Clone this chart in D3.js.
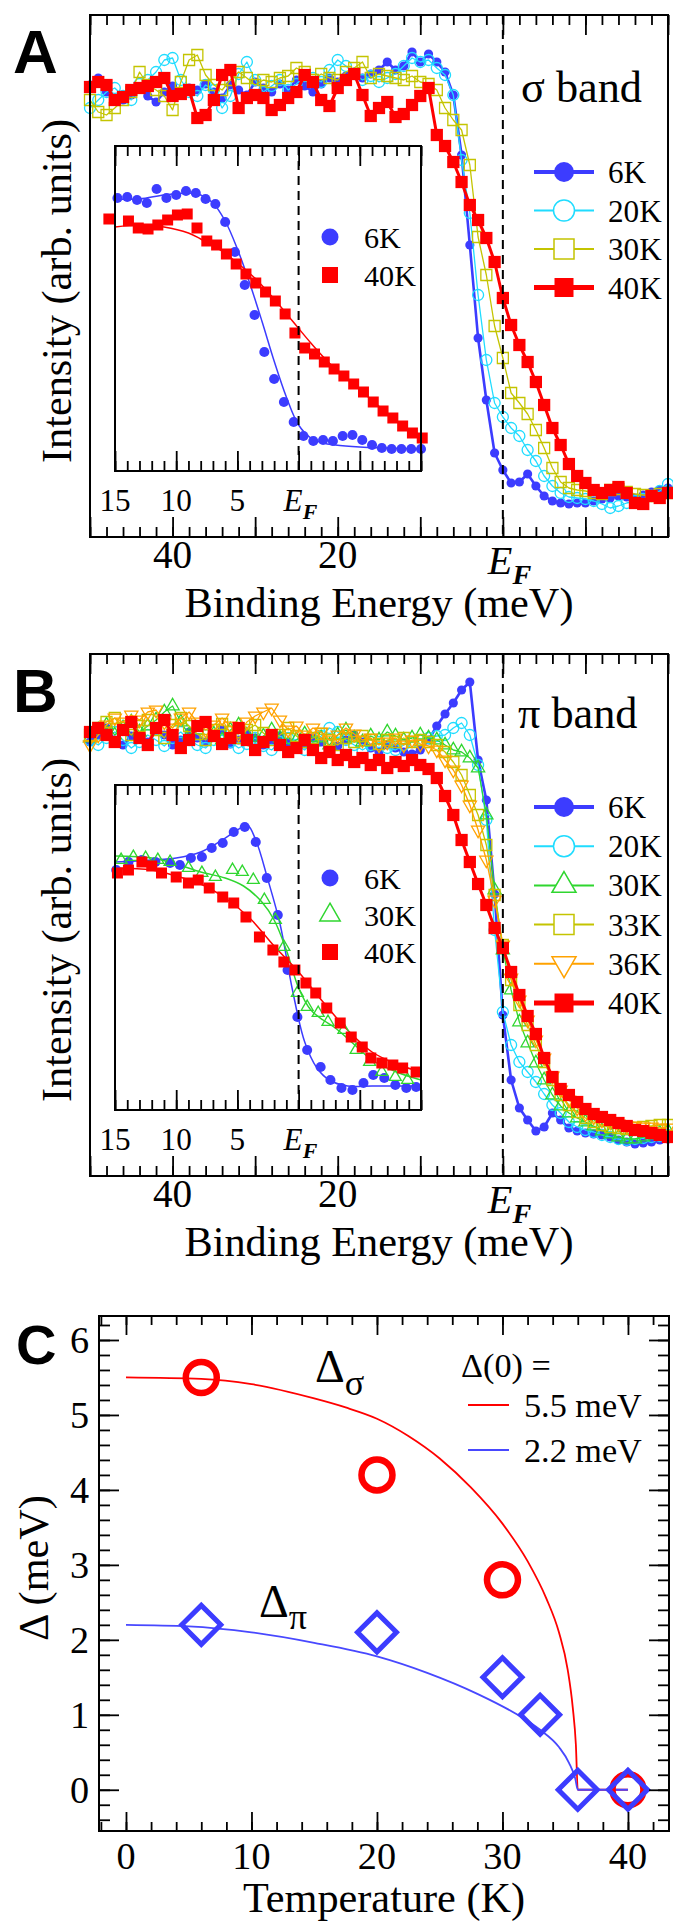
<!DOCTYPE html>
<html><head><meta charset="utf-8">
<script src="https://cdn.jsdelivr.net/npm/d3@7"></script>
<style>
body{margin:0;background:#fff}
svg{display:block}
</style>
</head><body>
<svg id="fig" width="673" height="1923"></svg>
<script>
// ---------------- DATA ----------------
const energies = [50,49,48,47,46,45,44,43,42,41,40,39,38,37,36,35,34,33,32,31,30,29,28,27,26,25,24,23,22,21,20,19,18,17,16,15,14,13,12,11,10,9,8,7,6,5,4,3,2,1,0,-1,-2,-3,-4,-5,-6,-7,-8,-9,-10,-11,-12,-13,-14,-15,-16,-17,-18,-19,-20];

// Panel A: sigma band (arb. units)
const sigma6K  = [452,459,445,439,437,442,449,441,435,445, 451,442,449,447,453,445,439,452,447,442, 455,449,445,453,447,457,451,445,453,459, 455,461,465,459,463,467,475,467,471,485, 475,483,475,465,442,382,292,199,137,84, 67, 54,55,63,51,41,36,34,33,34,34, 36,38,39,41,40,39,42,45,47,49];
const sigma20K = [429,437,445,449,441,437,453,457,465,477, 479,457,445,441,452,447,429,441,463,475, 457,445,451,457,447,453,461,459,455,467, 477,471,463,457,461,455,459,463,471,479, 475,477,469,462,442,377,324,242,177,134, 120, 109,101,87,76,61,51,44,40,39,38, 36,33,29,31,34,36,38,41,46,53];
const sigma30K = [437,425,422,429,437,445,465,452,447,441, 427,455,477,482,462,452,447,457,465,459, 452,457,455,459,461,469,465,457,463,459, 457,465,469,475,459,463,461,459,457,461, 455,453,447,429,417,407,372,300,262,211, 179, 144,134,123,107,89,69,55,49,47,46, 44,43,47,48,45,43,42,41,43,44];
const sigma40K = [450,455,452,437,440,447,449,451,455,459, 441,443,447,419,422,437,462,467,429,439, 442,439,427,432,439,445,462,455,437,431, 449,457,463,442,421,429,435,420,423,432, 441,449,402,391,375,355,332,317,299,275, 239, 212,192,175,155,132,109,92,73,61,54, 47,44,47,50,44,34,33,41,39,44];

// Panel B: pi band (arb. units)
const pi6K  = [434,441,448,436,431,440,438,434,446,441, 431,436,444,438,434,440,446,432,436,442, 438,431,436,440,434,428,432,438,434,426, 430,436,441,434,428,424,431,428,424,422, 426,436,450,462,473,486,494,416,376,282, 161, 96,68,56,45,49,63,56,48,45,43, 42,41,39,36,34,32,33,34,36,37];
const pi20K = [436,431,438,444,436,428,434,441,436,430, 438,444,436,431,428,436,441,434,428,432, 438,430,426,434,438,431,426,434,440,448, 444,436,431,426,431,434,428,426,431,434, 436,438,440,441,448,453,441,411,356,246, 164, 131,114,104,94,82,71,63,54,49,46, 44,41,39,37,36,37,38,39,40,41];
const pi30K = [438,446,451,441,448,454,444,450,456,464, 470,454,441,446,450,442,436,446,451,441, 434,440,446,438,432,436,442,434,438,431, 441,446,438,434,440,436,444,440,436,438, 441,438,436,431,426,424,418,408,361,286, 226, 186,154,133,113,96,81,70,63,58,54, 50,45,42,39,37,37,39,41,43,45];
const pi33K = [441,448,454,458,448,441,450,456,446,438, 451,458,450,442,436,446,452,444,438,446, 451,443,436,441,448,440,434,438,442,436, 431,438,434,440,436,432,436,434,438,434, 436,434,431,424,414,401,381,361,331,281, 231, 196,171,151,131,114,96,81,71,64,58, 54,51,49,48,47,48,49,50,51,51];
const pi36K = [431,441,451,458,454,461,456,464,466,454, 448,458,464,454,446,451,458,450,442,454, 460,464,468,456,446,450,441,448,444,436, 441,448,442,436,438,431,434,438,431,436, 432,430,426,416,406,391,371,346,316,276, 231, 198,176,156,136,118,100,86,76,68,62, 59,56,54,52,50,50,49,49,48,48];
const pi40K = [444,448,441,434,446,454,438,431,448,456, 441,428,436,450,454,440,432,438,448,436, 426,434,441,431,424,428,436,426,418,424, 416,421,414,418,411,416,408,414,410,416, 411,407,398,380,361,336,314,292,271,248, 228, 204,181,160,142,118,99,87,81,74,67, 62,59,56,53,50,46,45,43,41,39];

const mainTickLabels = ["40", "20", "E_F"];
const mainTickValues = [40, 20, 0];
const legendLabelsA = ["6K", "20K", "30K", "40K"];
const legendLabelsB = ["6K", "20K", "30K", "33K", "36K", "40K"];

// Inset A (sigma)
const insetSigmaE6K = [14.8,14.0,13.2,12.4,11.6,10.8,10.0,9.2,8.4,7.6,6.8,6.0,5.2,4.4,3.6,2.8,2.0,1.2,0.4,-0.4,-1.2,-2.0,-2.8,-3.6,-4.4,-5.2,-6.0,-6.8,-7.6,-8.4,-9.2,-10.0];
const insetSigma6K  = [273,274,271,268,282,273,276,280,278,272,267,249,219,186,156,119,92,69,49,35,30,31,30,35,36,31,26,23,22,22,22,22];
const insetSigmaE40K = [15.5,13.9,13.1,12.3,11.5,10.7,9.9,9.1,8.3,7.5,6.7,5.9,5.1,4.3,3.5,2.7,1.9,1.1,0.3,-0.5,-1.3,-2.1,-2.9,-3.7,-4.5,-5.3,-6.1,-6.9,-7.7,-8.5,-9.3,-10.1];
const insetSigma40K  = [252,250,243,242,246,251,256,257,243,230,226,217,207,197,188,179,170,157,138,123,117,109,102,95,87,79,69,60,53,45,38,33];
const insetSigmaFitE6K = [15,13,11,9,8,7,6,5,4,3,2,1,0,-1,-2,-3,-5,-7,-10];
const insetSigmaFit6K  = [272,272,276,278,276,268,250,222,188,150,110,74,46,33,28,26,24,23,22];
const insetSigmaFitE40K = [15,13,11,9,8,6.5,5,3.5,2,0.5,-1,-2.5,-4,-5.5,-7,-8.5,-10];
const insetSigmaFit40K  = [244,246,244,238,232,222,208,192,172,150,128,108,92,76,60,45,32];
const insetLegendA = ["6K", "40K"];

// Inset B (pi)
const insetPiE6K = [14.9,13.9,12.8,11.7,10.5,9.7,8.8,7.9,7.1,6.2,5.3,4.4,3.5,2.6,1.7,0.9,0.1,-0.7,-1.8,-2.6,-3.5,-4.4,-5.3,-6.1,-7.0,-7.9,-8.8,-9.6];
const insetPi6K  = [240,248,250,248,247,245,252,253,262,267,278,283,268,232,195,140,93,60,43,30,22,20,27,35,32,25,22,23];
const insetPiE30K = [14.5,13.5,12.5,11.5,10.5,9.0,7.9,6.8,5.4,4.6,3.7,2.8,1.9,1.2,0.1,-0.7,-1.6,-2.4,-3.7,-4.7,-5.8,-6.8,-7.9,-8.9];
const insetPi30K  = [250,253,252,250,248,242,237,233,240,238,230,210,190,163,117,103,97,88,80,60,48,38,33,30];
const insetPiE40K = [14.8,13.9,12.8,12.0,11.2,10.0,9.0,8.2,7.3,6.2,5.3,4.3,3.2,2.1,1.2,0.3,-0.6,-1.4,-2.3,-3.4,-4.3,-5.2,-5.9,-6.8,-7.7,-8.5,-9.6];
const insetPi40K  = [237,240,248,244,237,233,227,230,222,213,207,193,173,160,148,140,127,117,102,87,73,63,52,47,45,42,38];
const insetPiFitE6K = [15,12,10,8,6.5,5,4.2,3.5,2.5,1.5,0.5,-0.5,-1.5,-2.5,-4,-6,-8,-10];
const insetPiFit6K  = [248,250,252,258,268,280,285,270,230,185,120,68,42,30,24,24,24,24];
const insetPiFitE30K = [15,12,10,8,6,4.5,3,2,1,0,-1,-2,-3,-4.5,-6,-8,-10];
const insetPiFit30K  = [254,252,246,238,232,224,208,190,160,122,100,90,82,66,50,38,30];
const insetPiFitE40K = [15,12,10,8,6,4,2,0,-2,-4,-6,-8,-10];
const insetPiFit40K  = [242,240,234,226,212,192,164,138,108,80,58,46,38];
const insetLegendB = ["6K", "30K", "40K"];
const insetTickLabels = ["15", "10", "5", "E_F"];
const insetTickValues = [15, 10, 5, 0];

// Panel C: gaps vs temperature
const tempSigma = [6, 20, 30, 40];
const gapSigma  = [5.5, 4.2, 2.8, 0];
const tempPi = [6, 20, 30, 33, 36, 40];
const gapPi  = [2.2, 2.1, 1.5, 1.0, 0, 0];
const fitTempSigma = [0, 6, 10, 15, 17.5, 20, 22.5, 25, 27.5, 30, 32, 33.5, 34.5, 35.2, 35.6, 35.85, 36, 40];
const fitGapSigma  = [5.5, 5.48, 5.41, 5.22, 5.10, 4.95, 4.72, 4.42, 4.03, 3.55, 3.05, 2.55, 2.1, 1.6, 1.1, 0.6, 0, 0];
const fitTempPi = [0, 5, 10, 15, 20, 24, 28, 31, 33, 34.5, 35.3, 35.8, 36, 40];
const fitGapPi  = [2.2, 2.18, 2.1, 1.96, 1.78, 1.56, 1.28, 1.02, 0.8, 0.57, 0.36, 0.15, 0, 0];
const gapLegendLabels = ["5.5 meV", "2.2 meV"];
const tempTicks = [0, 10, 20, 30, 40];
const gapTicks = [0, 1, 2, 3, 4, 5, 6];

// ---------------- DRAWING ----------------
const SERIF = '"Liberation Serif","Times New Roman",Tinos,serif';
const SANS = '"Liberation Sans",Arial,Helvetica,sans-serif';
const svg = d3.select("#fig");
const BLUE = "#3c3cff", CYAN = "#1fdcff", OLIVE = "#c4c400", RED = "#ff0000", GREEN = "#2fd62f", ORANGE = "#ffa200";

// calibrate serif size against the axis-title width read on the reference
let K = 1;
(function () {
  const t = svg.append("text").style("font-family", SERIF).style("font-weight", "normal").style("font-size", "42px").text("Binding Energy (meV)");
  const w = t.node().getComputedTextLength();
  t.remove();
  if (w > 0) K = Math.max(0.75, Math.min(1.25, 389 / w));
})();

function txt(g, x, y, size, str, opt) {
  opt = opt || {};
  const fam = opt.family || SERIF;
  const s = fam === SERIF ? size * K : size;
  const t = g.append("text").attr("x", x).attr("y", y)
    .style("font-family", fam).style("font-size", s + "px").style("font-weight", opt.weight || "normal").attr("fill", "#000");
  if (opt.anchor) t.attr("text-anchor", opt.anchor);
  if (opt.transform) t.attr("transform", opt.transform);
  if (str !== null) t.text(str);
  return t;
}

function ticks(g, x, vals, len, orient, pos) {
  const fn = {bottom: d3.axisBottom, top: d3.axisTop, left: d3.axisLeft, right: d3.axisRight}[orient];
  const tr = (orient === "bottom" || orient === "top") ? `translate(0,${pos})` : `translate(${pos},0)`;
  const a = g.append("g").attr("transform", tr)
    .call(fn(x).tickValues(vals).tickSize(-len).tickFormat(""));
  a.select(".domain").remove();
  a.selectAll("line").attr("stroke", "#000").attr("stroke-width", 1.8);
  a.selectAll("text").remove();
}

function markers(g, x, y, xs, ys, st) {
  const sym = d3.symbol().type(st.type).size(st.size);
  g.append("g").selectAll("path").data(xs.map((e, i) => [e, ys[i]])).join("path")
    .attr("transform", d => `translate(${x(d[0])},${y(d[1])})` + (st.rot ? ` rotate(${st.rot})` : ""))
    .attr("d", sym)
    .attr("fill", st.filled ? st.color : "none")
    .attr("stroke", st.filled ? "none" : st.color)
    .attr("stroke-width", st.sw || 1.3);
}
function line(g, x, y, xs, ys, color, lw, curve) {
  g.append("path").datum(xs.map((e, i) => [e, ys[i]]))
    .attr("fill", "none").attr("stroke", color).attr("stroke-width", lw).attr("stroke-linejoin", "round")
    .attr("d", d3.line().x(d => x(d[0])).y(d => y(d[1])).curve(curve || d3.curveLinear));
}

function efLabel(g, xpos, base, size) {
  const t = txt(g, xpos, base, size, null).style("font-style", "italic");
  t.append("tspan").text("E");
  t.append("tspan").style("font-size", (size * 0.7 * K) + "px").style("font-weight", "bold").attr("dy", size * 0.25).text("F");
}

function spectraPanel(cfg) {
  const g = svg.append("g");
  const top = cfg.top, bottom = cfg.bottom;
  const x = d3.scaleLinear().domain([50, -20]).range([90, 668]);
  const y = d3.scaleLinear().domain([0, 522]).range([bottom, top]);
  cfg.series.forEach(s => {
    line(g, x, y, energies, s.values, s.color, s.lw);
    markers(g, x, y, energies, s.values, s);
  });
  g.append("rect").attr("x", 90).attr("y", top).attr("width", 578).attr("height", bottom - top)
    .attr("fill", "none").attr("stroke", "#000").attr("stroke-width", 2);
  ticks(g, x, d3.range(-20, 51, 2), 10, "bottom", bottom);
  ticks(g, x, d3.range(-20, 51, 10), 20, "bottom", bottom);
  ticks(g, x, d3.range(-20, 51, 2), 10, "top", top);
  ticks(g, x, d3.range(-20, 51, 10), 20, "top", top);
  g.append("line").attr("x1", x(0)).attr("x2", x(0)).attr("y1", top).attr("y2", bottom)
    .attr("stroke", "#000").attr("stroke-width", 2).attr("stroke-dasharray", "9,6");
  mainTickValues.forEach((v, i) => {
    if (mainTickLabels[i] === "E_F") efLabel(g, x(v) - 15, bottom + 37, 40);
    else txt(g, x(v), bottom + 31, 39, mainTickLabels[i], {anchor: "middle"});
  });
  txt(g, 379, bottom + 80, 42, "Binding Energy (meV)", {anchor: "middle"});
  txt(g, 0, 0, 42, "Intensity (arb. units)", {anchor: "middle", transform: `translate(71,${top + 276}) rotate(-90)`});
  txt(g, 13, top + 58, 62, cfg.letter, {family: SANS, weight: "bold"});
  txt(g, cfg.bandX, cfg.bandY, 44, cfg.band);
  cfg.series.forEach((s, i) => {
    const ly = cfg.legY + i * cfg.legDy;
    g.append("line").attr("x1", 534).attr("x2", 594).attr("y1", ly).attr("y2", ly).attr("stroke", s.color).attr("stroke-width", s.legLw);
    const sym = d3.symbol().type(s.type).size(s.legSize);
    g.append("path").attr("transform", `translate(564,${ly})` + (s.rot ? ` rotate(${s.rot})` : "")).attr("d", sym)
      .attr("fill", s.filled ? s.color : "#fff").attr("stroke", s.filled ? "none" : s.color).attr("stroke-width", 1.5);
    txt(g, 608, ly + 11, 31, cfg.legendLabels[i]);
  });
  // inset
  const it = cfg.insetTop, ib = cfg.insetBottom;
  const xi = d3.scaleLinear().domain([15, -10]).range([115, 421]);
  const yi = d3.scaleLinear().domain([0, 325]).range([ib, it]);
  g.append("rect").attr("x", 115).attr("y", it).attr("width", 306).attr("height", ib - it).attr("fill", "#fff");
  cfg.inset.forEach(s => line(g, xi, yi, s.fitE, s.fit, s.color, 1.5, d3.curveCatmullRom.alpha(0.5)));
  cfg.inset.forEach(s => markers(g, xi, yi, s.e, s.values, s));
  g.append("rect").attr("x", 115).attr("y", it).attr("width", 306).attr("height", ib - it)
    .attr("fill", "none").attr("stroke", "#000").attr("stroke-width", 2);
  ticks(g, xi, d3.range(-10, 16, 1), 10, "bottom", ib);
  ticks(g, xi, d3.range(-10, 16, 5), 20, "bottom", ib);
  ticks(g, xi, d3.range(-10, 16, 1), 10, "top", it);
  ticks(g, xi, d3.range(-10, 16, 5), 20, "top", it);
  g.append("line").attr("x1", xi(0)).attr("x2", xi(0)).attr("y1", it).attr("y2", ib)
    .attr("stroke", "#000").attr("stroke-width", 2).attr("stroke-dasharray", "9,6");
  insetTickValues.forEach((v, i) => {
    if (insetTickLabels[i] === "E_F") efLabel(g, xi(v) - 15, ib + 40, 31);
    else txt(g, xi(v), ib + 40, 31, insetTickLabels[i], {anchor: "middle"});
  });
  cfg.inset.forEach((s, i) => {
    const ly = cfg.iLegY + i * cfg.iLegDy;
    const sym = d3.symbol().type(s.type).size(s.legSize);
    g.append("path").attr("transform", `translate(330,${ly})`).attr("d", sym)
      .attr("fill", s.filled ? s.color : "none").attr("stroke", s.filled ? "none" : s.color).attr("stroke-width", 1.5);
    txt(g, 364, ly + 11, 30, cfg.iLegendLabels[i]);
  });
}

const circ = d3.symbolCircle, sq = d3.symbolSquare, tri = d3.symbolTriangle;

spectraPanel({
  top: 15, bottom: 537, insetTop: 146, insetBottom: 471, letter: "A", band: "\u03c3 band", bandX: 521, bandY: 102,
  legY: 172, legDy: 38.5, legendLabels: legendLabelsA,
  series: [
    {values: sigma6K, color: BLUE, lw: 2.6, type: circ, size: 66, filled: true, legSize: 314, legLw: 4},
    {values: sigma20K, color: CYAN, lw: 1.3, type: circ, size: 95, filled: false, legSize: 346, legLw: 2},
    {values: sigma30K, color: OLIVE, lw: 1.3, type: sq, size: 121, filled: false, legSize: 400, legLw: 2},
    {values: sigma40K, color: RED, lw: 3, type: sq, size: 150, filled: true, legSize: 361, legLw: 5}
  ],
  iLegY: 237, iLegDy: 38, iLegendLabels: insetLegendA,
  inset: [
    {e: insetSigmaE6K, values: insetSigma6K, fitE: insetSigmaFitE6K, fit: insetSigmaFit6K, color: BLUE, type: circ, size: 80, filled: true, legSize: 227},
    {e: insetSigmaE40K, values: insetSigma40K, fitE: insetSigmaFitE40K, fit: insetSigmaFit40K, color: RED, type: sq, size: 121, filled: true, legSize: 256}
  ]
});

spectraPanel({
  top: 654, bottom: 1176, insetTop: 785, insetBottom: 1110, letter: "B", band: "\u03c0 band", bandX: 518, bandY: 728,
  legY: 807, legDy: 39.2, legendLabels: legendLabelsB,
  series: [
    {values: pi6K, color: BLUE, lw: 2.6, type: circ, size: 66, filled: true, legSize: 314, legLw: 4},
    {values: pi20K, color: CYAN, lw: 1.3, type: circ, size: 95, filled: false, legSize: 346, legLw: 2},
    {values: pi30K, color: GREEN, lw: 1.3, type: tri, size: 75, filled: false, legSize: 250, legLw: 2},
    {values: pi33K, color: OLIVE, lw: 1.3, type: sq, size: 121, filled: false, legSize: 400, legLw: 2},
    {values: pi36K, color: ORANGE, lw: 1.3, type: tri, rot: 180, size: 75, filled: false, legSize: 250, legLw: 2},
    {values: pi40K, color: RED, lw: 3, type: sq, size: 150, filled: true, legSize: 361, legLw: 5}
  ],
  iLegY: 878, iLegDy: 37, iLegendLabels: insetLegendB,
  inset: [
    {e: insetPiE6K, values: insetPi6K, fitE: insetPiFitE6K, fit: insetPiFit6K, color: BLUE, type: circ, size: 80, filled: true, legSize: 227},
    {e: insetPiE30K, values: insetPi30K, fitE: insetPiFitE30K, fit: insetPiFit30K, color: GREEN, type: tri, size: 62, filled: false, legSize: 180},
    {e: insetPiE40K, values: insetPi40K, fitE: insetPiFitE40K, fit: insetPiFit40K, color: RED, type: sq, size: 121, filled: true, legSize: 256}
  ]
});

// ---------- Panel C ----------
(function () {
  const g = svg.append("g");
  const L = 99, R = 669, T = 1316, B = 1831;
  const x = d3.scaleLinear().domain([-2.15, 43.27]).range([L, R]);
  const y = d3.scaleLinear().domain([-0.55, 6.32]).range([B, T]);
  line(g, x, y, fitTempSigma, fitGapSigma, RED, 1.8, d3.curveMonotoneX);
  line(g, x, y, fitTempPi, fitGapPi, "#4848ff", 1.8, d3.curveMonotoneX);
  g.append("g").selectAll("circle").data(tempSigma.map((t, i) => [t, gapSigma[i]])).join("circle")
    .attr("cx", d => x(d[0])).attr("cy", d => y(d[1])).attr("r", 15.5)
    .attr("fill", "none").attr("stroke", RED).attr("stroke-width", 6.5);
  const dia = d3.symbol().type(d3.symbolSquare).size(760);
  g.append("g").selectAll("path").data(tempPi.map((t, i) => [t, gapPi[i]])).join("path")
    .attr("transform", d => `translate(${x(d[0])},${y(d[1])}) rotate(45)`).attr("d", dia)
    .attr("fill", "none").attr("stroke", BLUE).attr("stroke-width", 5);
  g.append("rect").attr("x", L).attr("y", T).attr("width", R - L).attr("height", B - T)
    .attr("fill", "none").attr("stroke", "#000").attr("stroke-width", 2);
  const minorT = d3.range(-2, 44, 2), minorG = d3.range(-2, 32, 1).map(v => v / 5);
  ticks(g, x, minorT, 9, "bottom", B);
  ticks(g, x, tempTicks, 19, "bottom", B);
  ticks(g, x, minorT, 9, "top", T);
  ticks(g, x, tempTicks, 19, "top", T);
  ticks(g, y, minorG, 11, "left", L);
  ticks(g, y, gapTicks, 20, "left", L);
  ticks(g, y, minorG, 11, "right", R);
  ticks(g, y, gapTicks, 20, "right", R);
  tempTicks.forEach(v => txt(g, x(v), 1869, 38, String(v), {anchor: "middle"}));
  gapTicks.forEach(v => txt(g, 89, y(v) + 13, 38, String(v), {anchor: "end"}));
  txt(g, 384, 1912, 42, "Temperature (K)", {anchor: "middle"});
  txt(g, 0, 0, 42, "\u0394 (meV)", {anchor: "middle", transform: "translate(48,1568) rotate(-90)"});
  txt(g, 16, 1364, 56, "C", {family: SANS, weight: "bold"});
  const a1 = txt(g, 315, 1382, 46, null);
  a1.append("tspan").text("\u0394");
  a1.append("tspan").style("font-size", (36 * K) + "px").attr("dy", 13).text("\u03c3");
  const a2 = txt(g, 259, 1617, 46, null);
  a2.append("tspan").text("\u0394");
  a2.append("tspan").style("font-size", (36 * K) + "px").attr("dy", 12).text("\u03c0");
  txt(g, 461, 1377, 34, "\u0394(0) =");
  [RED, "#4848ff"].forEach((c, i) => {
    const ly = 1405 + i * 45;
    g.append("line").attr("x1", 468).attr("x2", 509).attr("y1", ly).attr("y2", ly).attr("stroke", c).attr("stroke-width", 2);
    txt(g, 524, ly + 12, 34, gapLegendLabels[i]);
  });
})();
</script>
</body></html>
